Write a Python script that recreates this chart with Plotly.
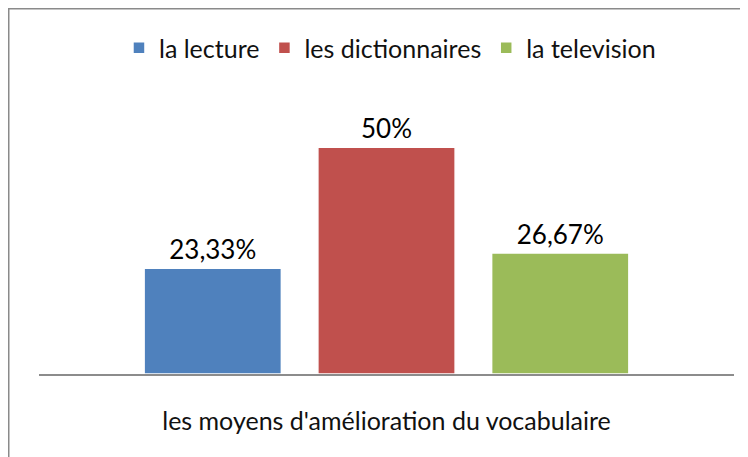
import plotly.graph_objects as go

category = ["les moyens d'amélioration du vocabulaire"]
series_names = ["la lecture", "les dictionnaires", "la television"]
series_values = [23.33, 50, 26.67]
series_labels = ["23,33%", "50%", "26,67%"]
series_colors = ["#4F81BD", "#C0504D", "#9BBB59"]

W, H = 748, 457
L, R, T, B = 31, 22, 94, 91
pw, ph = W - L - R, H - T - B

fig = go.Figure()
for name, val, lab, col in zip(series_names, series_values, series_labels, series_colors):
    fig.add_trace(go.Bar(
        x=category, y=[val], name=name,
        marker=dict(color=col, line=dict(color="white", width=1.5)),
        text=[lab], textposition="outside",
        textfont=dict(size=26, color="black"),
        cliponaxis=False,
    ))

fig.update_layout(
    width=W, height=H,
    margin=dict(l=L, r=R, t=T, b=B, autoexpand=False),
    barmode="group", bargap=0.25, bargroupgap=0.21,
    plot_bgcolor="white", paper_bgcolor="white",
    font=dict(family="Lato", size=25, color="#111111"),
    showlegend=True,
    legend=dict(orientation="h", x=0.505, xanchor="center",
                y=(H - B - 40) / ph, yanchor="middle",
                font=dict(size=25), itemwidth=30),
)
fig.update_xaxes(showline=True, linecolor="#8c8c8c", linewidth=2,
                 ticks="", tickfont=dict(size=25), showgrid=False,
                 ticklabelstandoff=24)
fig.update_yaxes(range=[0, 60], visible=False, showgrid=False)

# chart frame along the figure edge
fig.add_shape(type="rect", xref="paper", yref="paper",
              x0=-L / pw, x1=(W - L) / pw,
              y0=-B / ph, y1=(H - B) / ph,
              line=dict(color="#8a8a8a", width=3), layer="above")

fig.write_html("out.html")
